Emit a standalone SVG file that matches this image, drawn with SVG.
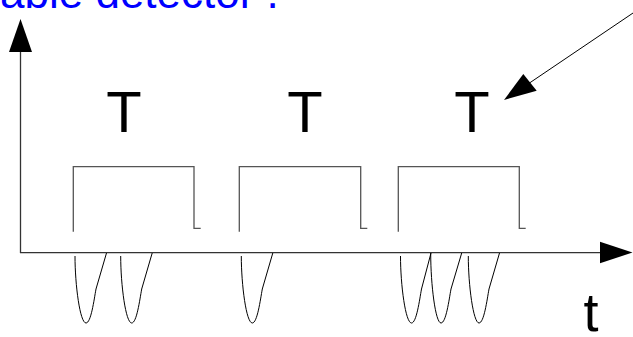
<svg xmlns="http://www.w3.org/2000/svg" width="633" height="337" viewBox="0 0 633 337">
<style>
.axis{stroke:#333;stroke-width:1.3;fill:none}
.pulse{stroke:#555;stroke-width:1.3;fill:none}
.spike{stroke:#000;stroke-width:1;fill:none}
.head{fill:#000;stroke:none}
.lbl{font-family:"Liberation Sans",Arial,sans-serif;fill:#000}
.title{font-family:"Liberation Sans",Arial,sans-serif;fill:#0000ff;font-size:44px}
</style>
<rect width="633" height="337" fill="#fff"/>
<text class="title" x="0" y="7.5">able detector .</text>
<g id="connectors">
  <line class="axis" x1="20.5" y1="253" x2="20.5" y2="50"/>
  <polygon class="head" points="20.5,19 9,52 32,52"/>
  <line class="axis" x1="20" y1="252.7" x2="602" y2="252.7"/>
  <polygon class="head" points="632.5,252.5 600,241.7 600,263.3"/>
  <line stroke="#000" stroke-width="1" x1="636" y1="11" x2="528" y2="84"/>
  <polygon class="head" points="504,100 523.3,74 536.7,90.7"/>
</g>
<g id="pulses">
  <path class="pulse" d="M73.3,231.7 V166.7 H194 V228.3 H200.7"/>
  <path class="pulse" d="M239.3,231.7 V166.7 H360.7 V228.3 H367.3"/>
  <path class="pulse" d="M398.3,231.7 V166.7 H519.3 V228.3 H525.7"/>
</g>
<g id="spikes">
  <path class="spike" d="M75,256 C75,285 80,323 86,323 C91,323 94,300 96,289 L106.5,253"/>
  <path class="spike" d="M120.7,256 C120.7,285 125.7,323 131.7,323 C136.7,323 139.7,300 141.7,289 L152.2,253"/>
  <path class="spike" d="M241.3,256 C241.3,285 246.3,323 252.3,323 C257.3,323 260.3,300 262.3,289 L272.8,253"/>
  <path class="spike" d="M400.5,256 C400.5,285 405.5,323 411.5,323 C416.5,323 419.5,300 421.5,289 L431,253"/>
  <path class="spike" d="M430.7,253 C430.7,285 435.5,323 441,323 C446,323 449,300 451,289 L461.7,253"/>
  <path class="spike" d="M468.3,256 C468.3,285 473.3,323 479,323 C484,323 487,300 489,289 L499.5,253"/>
</g>
<g id="label-T1"><text class="lbl" x="124" y="132" font-size="58" text-anchor="middle">T</text></g>
<g id="label-T2"><text class="lbl" x="305" y="132" font-size="58" text-anchor="middle">T</text></g>
<g id="label-T3"><text class="lbl" x="472" y="132" font-size="58" text-anchor="middle">T</text></g>
<g id="label-t"><text class="lbl" x="591" y="331" font-size="54" text-anchor="middle">t</text></g>
</svg>
